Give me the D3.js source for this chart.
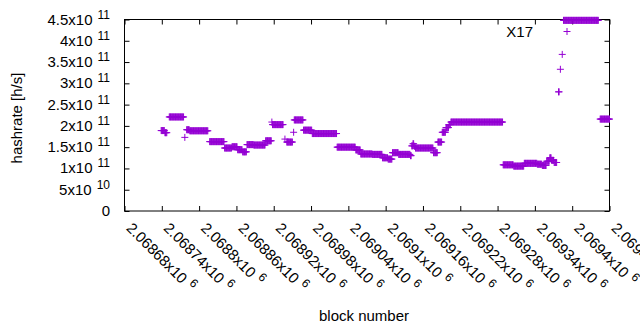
<!DOCTYPE html>
<html>
<head>
<meta charset="utf-8">
<script src="https://cdn.jsdelivr.net/npm/d3@7"></script>
<style>
body { margin: 0; background: #fff; }
svg text { font-family: "Liberation Sans", Arial, sans-serif; fill: #000; }
</style>
</head>
<body>
<svg id="chart" width="640" height="330"></svg>
<script>
// runs of blocks sharing the same hashrate estimate
var runFrom = [2068739, 2068745, 2068752, 2068777, 2068780, 2068785, 2068817, 2068841, 2068853, 2068862,
               2068870, 2068877, 2068888, 2068907, 2068917, 2068918, 2068938, 2068941, 2068952, 2068953,
               2068968, 2068982, 2069022, 2069052, 2069060, 2069079, 2069095, 2069104, 2069111, 2069121,
               2069140, 2069142, 2069144, 2069146, 2069148, 2069177, 2069184, 2069191, 2069197, 2069202,
               2069205, 2069289, 2069306, 2069323, 2069344, 2069352, 2069359, 2069364, 2069367, 2069371,
               2069378, 2069381, 2069384, 2069386, 2069445];
var runTo   = [2068744, 2068748, 2068775, 2068777, 2068784, 2068814, 2068840, 2068852, 2068861, 2068869,
               2068876, 2068887, 2068906, 2068916, 2068917, 2068935, 2068938, 2068950, 2068952, 2068967,
               2068981, 2069021, 2069051, 2069059, 2069078, 2069094, 2069103, 2069110, 2069120, 2069139,
               2069141, 2069143, 2069145, 2069147, 2069176, 2069183, 2069190, 2069196, 2069201, 2069204,
               2069288, 2069305, 2069322, 2069343, 2069351, 2069358, 2069363, 2069366, 2069370, 2069375,
               2069379, 2069381, 2069384, 2069442, 2069460];
var runRate = [1.89e11, 1.84e11, 2.21e11, 1.73e11, 1.91e11, 1.885e11, 1.63e11, 1.48e11, 1.51e11, 1.44e11,
               1.39e11, 1.56e11, 1.55e11, 1.65e11, 2.09e11, 2.03e11, 1.69e11, 1.62e11, 1.85e11, 2.14e11,
               1.90e11, 1.82e11, 1.50e11, 1.435e11, 1.34e11, 1.33e11, 1.25e11, 1.22e11, 1.37e11, 1.33e11,
               1.30e11, 1.53e11, 1.58e11, 1.52e11, 1.48e11, 1.37e11, 1.62e11, 1.85e11, 1.96e11, 2.03e11,
               2.09e11, 1.085e11, 1.055e11, 1.12e11, 1.10e11, 1.07e11, 1.17e11, 1.25e11, 1.19e11, 1.14e11,
               2.80e11, 3.33e11, 3.68e11, 4.48e11, 2.16e11];

var xTicks = [2068680, 2068740, 2068800, 2068860, 2068920, 2068980, 2069040,
              2069100, 2069160, 2069220, 2069280, 2069340, 2069400, 2069460];
var yTicks = [0, 5e10, 1e11, 1.5e11, 2e11, 2.5e11, 3e11, 3.5e11, 4e11, 4.5e11];

var seriesName = "X17";
var purple = "#9400d3";

var svg = d3.select("#chart");
var plotL = 124.5, plotR = 609.5, plotT = 19.5, plotB = 211;

var x = d3.scaleLinear().domain([xTicks[0], xTicks[xTicks.length - 1]]).range([plotL, plotR]);
var y = d3.scaleLinear().domain([0, 4.5e11]).range([plotB, plotT]);

// split a value into mantissa and power of ten, gnuplot style
function sci(v) {
    if (v === 0) return null;
    var e = Math.floor(Math.log10(v) + 1e-9);
    var m = parseFloat((v / Math.pow(10, e)).toFixed(5));
    return { m: m, e: e };
}

// ticks, mirrored on all four sides and pointing inward
function noDomain(g) { g.select(".domain").remove(); g.selectAll("text").remove(); }
svg.append("g").attr("transform", "translate(0," + plotB + ")")
    .call(d3.axisBottom(x).tickValues(xTicks).tickSize(-5)).call(noDomain);
svg.append("g").attr("transform", "translate(0," + plotT + ")")
    .call(d3.axisTop(x).tickValues(xTicks).tickSize(-5)).call(noDomain);
svg.append("g").attr("transform", "translate(" + plotL + ",0)")
    .call(d3.axisLeft(y).tickValues(yTicks).tickSize(-5)).call(noDomain);
svg.append("g").attr("transform", "translate(" + plotR + ",0)")
    .call(d3.axisRight(y).tickValues(yTicks).tickSize(-5)).call(noDomain);
svg.selectAll(".tick line").attr("stroke", "#000");

svg.append("rect")
    .attr("x", plotL).attr("y", plotT)
    .attr("width", plotR - plotL).attr("height", plotB - plotT)
    .attr("fill", "none").attr("stroke", "#000");

// y tick labels
var yLab = svg.append("g").selectAll("text").data(yTicks).enter().append("text")
    .attr("x", 110)
    .attr("y", function(d) { return y(d) + 5; })
    .attr("text-anchor", "end")
    .style("font-size", "15px");
yLab.each(function(d) {
    var t = d3.select(this), s = sci(d);
    if (!s) { t.text("0"); return; }
    t.append("tspan").text(s.m + "x10");
    t.append("tspan").attr("dx", 5).attr("dy", -6).style("font-size", "12px").text(s.e);
});

// x tick labels, rotated
var xLab = svg.append("g").selectAll("text").data(xTicks).enter().append("text")
    .attr("transform", function(d) { return "translate(" + (x(d) + 1) + ",229) rotate(45)"; })
    .style("font-size", "15px");
xLab.each(function(d) {
    var t = d3.select(this), s = sci(d);
    t.append("tspan").text(s.m + "x10");
    t.append("tspan").attr("dx", 5).attr("dy", -6).style("font-size", "12px").text(s.e);
});

// axis titles
svg.append("text")
    .attr("transform", "translate(22,118) rotate(-90)")
    .attr("text-anchor", "middle")
    .style("font-size", "15px")
    .text("hashrate [h/s]");
svg.append("text")
    .attr("x", 364).attr("y", 321)
    .attr("text-anchor", "middle")
    .style("font-size", "15px")
    .text("block number");

// points
var points = [];
runFrom.forEach(function(b, i) {
    for (var k = b; k <= runTo[i]; k++) points.push({ block: k, rate: runRate[i] });
});
var plus = "M-3.5,0H3.5M0,-3.5V3.5";
svg.append("g").selectAll("path").data(points).enter().append("path")
    .attr("d", plus)
    .attr("transform", function(d) { return "translate(" + x(d.block) + "," + y(d.rate) + ")"; })
    .attr("fill", "none")
    .attr("stroke", purple);

// key
svg.append("text")
    .attr("x", 533).attr("y", 37)
    .attr("text-anchor", "end")
    .style("font-size", "15px")
    .text(seriesName);
svg.append("path")
    .attr("d", plus)
    .attr("transform", "translate(567,31.5)")
    .attr("fill", "none")
    .attr("stroke", purple);
</script>
</body>
</html>
